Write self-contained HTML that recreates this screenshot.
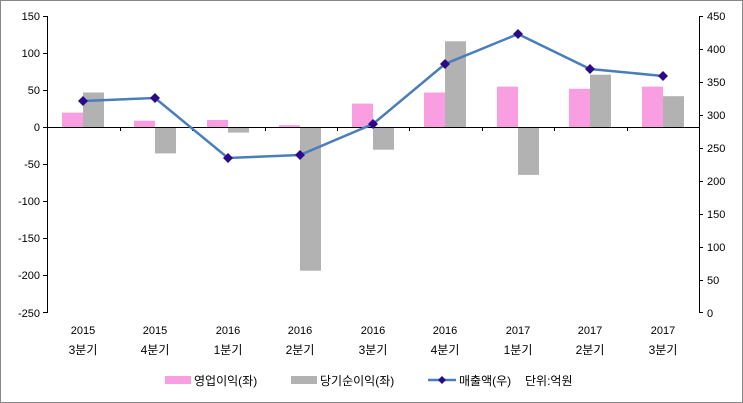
<!DOCTYPE html>
<html><head><meta charset="utf-8"><style>
body{margin:0;background:#fff;}
svg{display:block;font-family:"Liberation Sans","Noto Sans CJK KR",sans-serif;}
</style></head><body>
<svg width="743" height="403" viewBox="0 0 743 403">
<rect x="0.5" y="0.5" width="742" height="402" fill="#fff" stroke="#888"/>
<g fill="#f99ee0">
<rect x="62" y="112.6" width="21" height="14.8"/>
<rect x="134" y="120.7" width="21" height="6.7"/>
<rect x="207" y="120" width="21" height="7.4"/>
<rect x="279" y="125.2" width="21" height="2.2"/>
<rect x="352" y="103.6" width="21" height="23.8"/>
<rect x="424" y="92.5" width="21" height="34.9"/>
<rect x="497" y="86.6" width="21" height="40.8"/>
<rect x="569" y="88.8" width="21" height="38.6"/>
<rect x="642" y="86.6" width="21" height="40.8"/>
</g>
<g fill="#b2b2b2">
<rect x="83" y="92.5" width="21" height="34.9"/>
<rect x="155" y="127.4" width="21" height="26"/>
<rect x="228" y="127.4" width="21" height="5.2"/>
<rect x="300" y="127.4" width="21" height="143.3"/>
<rect x="373" y="127.4" width="21" height="22.3"/>
<rect x="445" y="41.3" width="21" height="86.1"/>
<rect x="518" y="127.4" width="21" height="47.5"/>
<rect x="590" y="74.7" width="21" height="52.7"/>
<rect x="663" y="96.2" width="21" height="31.2"/>
</g>
<g stroke="#000" stroke-width="1" fill="none">
<line x1="47.5" y1="16" x2="47.5" y2="313"/>
<line x1="699.5" y1="16" x2="699.5" y2="313"/>
<line x1="47" y1="127.5" x2="699" y2="127.5"/>
<path d="M43 16.5h4M43 53.5h4M43 90.5h4M43 127.5h4M43 164.5h4M43 201.5h4M43 238.5h4M43 275.5h4M43 312.5h4"/>
<path d="M699 16.5h4M699 49.5h4M699 82.5h4M699 115.5h4M699 148.5h4M699 181.5h4M699 214.5h4M699 247.5h4M699 280.5h4M699 312.5h4"/>
<path d="M47.5 127v4M120.5 127v4M192.5 127v4M265.5 127v4M337.5 127v4M409.5 127v4M482.5 127v4M554.5 127v4M627.5 127v4M699.5 127v4"/>
</g>
<polyline points="83,101 155,98 228,158 300,155 373,124 445,64 518,34 590,69 663,76" fill="none" stroke="#4a7ebb" stroke-width="2.5"/>
<g fill="#2a0a8a">
<path d="M83 96l5 5-5 5-5-5z"/><path d="M155 93l5 5-5 5-5-5z"/><path d="M228 153l5 5-5 5-5-5z"/>
<path d="M300 150l5 5-5 5-5-5z"/><path d="M373 119l5 5-5 5-5-5z"/><path d="M445 59l5 5-5 5-5-5z"/>
<path d="M518 29l5 5-5 5-5-5z"/><path d="M590 64l5 5-5 5-5-5z"/><path d="M663 71l5 5-5 5-5-5z"/>
</g>
<g font-size="11" text-anchor="end">
<text x="40" y="20">150</text><text x="40" y="57">100</text><text x="40" y="94">50</text><text x="40" y="131">0</text>
<text x="40" y="168">-50</text><text x="40" y="205">-100</text><text x="40" y="242">-150</text><text x="40" y="279">-200</text><text x="40" y="317">-250</text>
</g>
<g font-size="11" text-anchor="start">
<text x="707" y="20">450</text><text x="707" y="53">400</text><text x="707" y="86">350</text><text x="707" y="119">300</text>
<text x="707" y="152">250</text><text x="707" y="185">200</text><text x="707" y="218">150</text><text x="707" y="251">100</text>
<text x="707" y="284">50</text><text x="707" y="317">0</text>
</g>
<g font-size="11" text-anchor="middle">
<text x="83" y="334">2015</text><text x="155" y="334">2015</text><text x="228" y="334">2016</text><text x="300" y="334">2016</text><text x="373" y="334">2016</text><text x="445" y="334">2016</text><text x="518" y="334">2017</text><text x="590" y="334">2017</text><text x="663" y="334">2017</text>
</g>
<g font-size="12" text-anchor="middle">
<text x="83" y="354">3분기</text><text x="155" y="354">4분기</text><text x="228" y="354">1분기</text><text x="300" y="354">2분기</text><text x="373" y="354">3분기</text><text x="445" y="354">4분기</text><text x="518" y="354">1분기</text><text x="590" y="354">2분기</text><text x="663" y="354">3분기</text>
</g>
<rect x="165" y="376" width="26" height="8" fill="#f99ee0"/>
<text x="194" y="385" font-size="12">영업이익(좌)</text>
<rect x="291" y="376" width="26" height="8" fill="#b2b2b2"/>
<text x="320" y="385" font-size="12">당기순이익(좌)</text>
<line x1="428" y1="380" x2="456" y2="380" stroke="#4a7ebb" stroke-width="2.5"/>
<path d="M442 376l4 4-4 4-4-4z" fill="#2a0a8a"/>
<text x="459" y="385" font-size="12">매출액(우)</text>
<text x="525" y="385" font-size="12">단위:억원</text>
</svg>
</body></html>
